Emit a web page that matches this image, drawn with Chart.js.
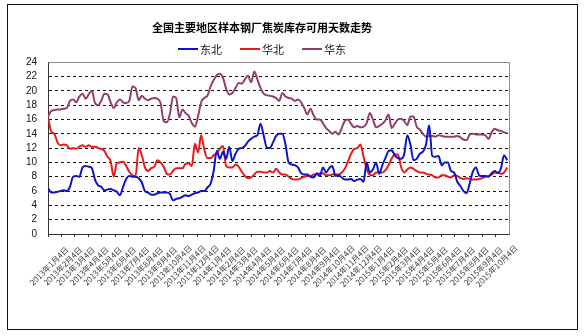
<!DOCTYPE html>
<html>
<head>
<meta charset="utf-8">
<script src="https://cdn.jsdelivr.net/npm/chart.js@4.4.0/dist/chart.umd.min.js"></script>
<style>
  html, body { margin: 0; padding: 0; background: #fff; }
  canvas { display: block; }
</style>
</head>
<body>
<canvas id="cokeChart" width="585" height="336"></canvas>
<script>
// weekly readings starting 2013-01-04, one value per week
const firstWeek = '2013-01-04';

const seriesNames = ['东北', '华北', '华东'];
const seriesColors = ['#0f14c8', '#e8191c', '#933f6c'];

const dongbei = [
    6.4, 5.8, 5.8, 5.9, 6.0, 6.1, 6.0, 6.6, 8.0, 8.1,
    8.0, 9.3, 9.5, 9.4, 9.2, 7.6, 6.8, 6.6, 6.1, 6.2,
    6.3, 6.1, 5.9, 5.4, 6.6, 7.7, 8.1, 8.0, 8.0, 7.8,
    7.2, 6.0, 5.8, 5.5, 5.5, 5.7, 5.8, 5.8, 5.8, 5.6,
    4.7, 4.9, 5.0, 5.2, 5.4, 5.3, 5.5, 5.7, 5.8, 6.0,
    6.0, 6.5, 7.0, 8.8, 11.6, 10.5, 11.5, 10.5, 12.2, 10.2,
    11.2, 11.9, 12.0, 12.3, 12.9, 13.3, 13.6, 13.8, 15.4, 13.8,
    12.1, 12.0, 12.8, 13.7, 14.0, 14.0, 12.5, 10.0, 9.7, 9.6,
    9.3, 8.5, 8.3, 8.3, 8.0, 7.9, 8.5, 8.1, 9.3, 8.6,
    9.2, 9.5, 8.1, 8.2, 7.9, 7.6, 7.6, 7.7, 7.4, 7.6,
    7.7, 7.3, 10.0, 8.6, 9.0, 10.0, 8.4, 9.6, 10.6, 11.6,
    11.7, 11.0, 10.6, 10.5, 11.1, 13.8, 12.5, 10.3, 10.5, 11.2,
    11.5, 12.5, 15.2, 10.9, 10.8, 10.9, 9.6, 10.0, 10.0, 8.8,
    8.6, 7.3, 6.7, 6.0, 5.7, 7.1, 8.7, 9.3, 8.2, 8.1,
    8.1, 8.0, 8.5, 8.8, 8.5, 9.2, 11.0, 10.3
];

const huabei = [
    16.2, 14.3, 14.0, 12.8, 12.4, 12.5, 12.4, 11.9, 12.0, 11.9,
    12.2, 12.4, 12.2, 12.4, 12.2, 12.2, 12.0, 11.9, 11.6, 10.8,
    10.2, 8.0, 9.9, 10.0, 10.1, 9.5, 8.7, 8.2, 8.1, 12.0,
    11.0, 9.3, 8.8, 9.2, 9.4, 10.3, 10.0, 9.4, 8.4, 8.3,
    8.8, 9.2, 9.2, 9.2, 9.8, 9.9, 9.5, 12.6, 11.4, 13.8,
    11.8, 10.6, 10.6, 11.0, 11.3, 11.9, 12.3, 9.5, 9.3, 9.3,
    9.7, 9.4, 8.7, 8.1, 7.8, 7.9, 8.3, 8.7, 8.7, 8.6,
    8.6, 8.8, 8.6, 9.1, 8.6, 8.3, 8.3, 8.0, 7.7, 7.6,
    7.6, 7.8, 8.0, 8.1, 8.1, 8.3, 8.3, 8.5, 8.5, 8.2,
    8.2, 8.3, 8.3, 8.3, 8.6, 9.1, 10.1, 11.2, 11.9, 12.0,
    12.5, 10.8, 9.1, 8.3, 8.2, 8.6, 8.6, 8.6, 8.9, 9.6,
    10.5, 11.1, 11.1, 9.4, 8.6, 9.0, 9.3, 9.1, 8.8, 8.6,
    8.6, 8.4, 8.3, 8.2, 7.9, 7.9, 8.2, 8.2, 8.0, 7.9,
    8.2, 8.1, 7.8, 7.7, 7.8, 7.7, 7.6, 7.6, 7.7, 7.8,
    8.0, 8.1, 8.3, 8.6, 8.6, 8.4, 8.6, 9.3
];

const huadong = [
    16.4, 17.2, 17.3, 17.4, 17.4, 17.5, 17.6, 18.6, 18.8, 18.4,
    19.2, 19.6, 18.9, 19.5, 20.0, 18.3, 18.0, 18.6, 19.6, 19.5,
    18.4, 17.6, 18.4, 18.8, 18.4, 18.3, 18.6, 20.6, 20.4, 18.7,
    19.3, 18.9, 18.7, 18.9, 19.0, 18.9, 18.3, 15.8, 15.6, 16.8,
    19.2, 19.0, 16.3, 17.4, 16.9, 16.5, 15.5, 15.0, 16.4, 18.4,
    19.0, 19.3, 20.6, 21.5, 22.2, 22.4, 21.8, 20.3, 19.5, 19.7,
    20.4, 21.1, 21.0, 21.6, 22.1, 21.2, 22.7, 21.6, 20.4, 19.6,
    19.4, 19.3, 19.2, 19.0, 18.6, 19.7, 19.2, 19.0, 18.9, 18.6,
    18.8, 18.4, 17.6, 16.7, 17.5, 16.6, 16.0, 16.0, 15.5, 14.8,
    14.4, 14.0, 14.3, 13.9, 14.8, 15.8, 16.0, 15.4, 14.9, 15.1,
    14.9, 15.0, 15.5, 16.9, 16.0, 14.9, 15.1, 15.4, 15.9, 16.7,
    14.8, 15.4, 16.0, 16.1, 15.8, 15.2, 16.4, 16.4, 15.0, 14.6,
    14.0, 13.6, 13.7, 13.7, 13.6, 13.8, 13.7, 13.6, 13.6, 13.6,
    13.6, 13.7, 13.5, 13.2, 13.1, 13.9, 14.0, 13.9, 13.9, 13.9,
    13.8, 13.3, 14.2, 14.7, 14.5, 14.4, 14.2, 14.1
];

const monthLabels = [
    '2013年1月4日', '2013年2月4日', '2013年3月4日', '2013年4月4日', '2013年5月4日', '2013年6月4日',
    '2013年7月4日', '2013年8月4日', '2013年9月4日', '2013年10月4日', '2013年11月4日', '2013年12月4日',
    '2014年1月4日', '2014年2月4日', '2014年3月4日', '2014年4月4日', '2014年5月4日', '2014年6月4日',
    '2014年7月4日', '2014年8月4日', '2014年9月4日', '2014年10月4日', '2014年11月4日', '2014年12月4日',
    '2015年1月4日', '2015年2月4日', '2015年3月4日', '2015年4月4日', '2015年5月4日', '2015年6月4日',
    '2015年7月4日', '2015年8月4日', '2015年9月4日', '2015年10月4日'
];

const yTicks = [0, 2, 4, 6, 8, 10, 12, 14, 16, 18, 20, 22, 24];

// x axis runs in days since the first week
const DAY = 86400000;
const t0 = Date.parse(firstWeek + 'T00:00:00Z');
const monthDays = monthLabels.map(s => {
    const m = s.match(/(\d+)年(\d+)月(\d+)日/);
    return (Date.UTC(+m[1], +m[2] - 1, +m[3]) - t0) / DAY;
});
const toPoints = arr => arr.map((v, i) => ({x: i * 7, y: v}));

const cjk = '"Noto Sans CJK SC", "Noto Sans", sans-serif';

// white page, outer frame, plot border, legend row and slanted date labels
const decorations = {
    id: 'decorations',
    beforeDraw(chart) {
        const ctx = chart.ctx;
        ctx.save();
        ctx.fillStyle = '#fff';
        ctx.fillRect(0, 0, chart.width, chart.height);
        ctx.restore();
    },
    afterDraw(chart) {
        const ctx = chart.ctx;
        const area = chart.chartArea;
        const xs = chart.scales.x;
        ctx.save();

        // plot area border (top/right), grey
        ctx.strokeStyle = '#8c8c8c';
        ctx.lineWidth = 1;
        ctx.beginPath();
        ctx.moveTo(Math.round(area.left) + 0.5, Math.round(area.top) + 0.5);
        ctx.lineTo(Math.round(area.right) + 0.5, Math.round(area.top) + 0.5);
        ctx.lineTo(Math.round(area.right) + 0.5, Math.round(area.bottom) + 0.5);
        ctx.stroke();

        // chart object frame
        ctx.strokeStyle = '#111';
        ctx.strokeRect(7.5, 4.5, 570, 325);

        // legend
        ctx.font = '11px ' + cjk;
        ctx.textBaseline = 'middle';
        ctx.textAlign = 'left';
        const lineLen = 20, gap = 18, ly = 49;
        const widths = seriesNames.map(n => lineLen + 2 + ctx.measureText(n).width);
        const total = widths.reduce((a, b) => a + b, 0) + gap * (widths.length - 1);
        const tb = chart.titleBlock;
        let lx = tb.left + tb.width / 2 - total / 2;
        seriesNames.forEach((n, k) => {
            ctx.strokeStyle = seriesColors[k];
            ctx.lineWidth = 2;
            ctx.beginPath();
            ctx.moveTo(lx, ly);
            ctx.lineTo(lx + lineLen, ly);
            ctx.stroke();
            ctx.fillStyle = '#111';
            ctx.fillText(n, lx + lineLen + 2, ly + 0.5);
            lx += widths[k] + gap;
        });

        // month labels, slanted and centred under each tick
        ctx.font = '8px ' + cjk;
        ctx.fillStyle = '#3a3a3a';
        ctx.textAlign = 'center';
        monthLabels.forEach((lab, k) => {
            const x = xs.getPixelForValue(monthDays[k]);
            ctx.save();
            ctx.translate(x + 1, area.bottom + 32);
            ctx.rotate(-Math.PI / 4);
            ctx.fillText(lab, 0, 0);
            ctx.restore();
        });
        ctx.restore();
    }
};

const ctx = document.getElementById('cokeChart').getContext('2d');
const cokeChart = new Chart(ctx, {
    type: 'line',
    plugins: [decorations],
    data: {
        datasets: [dongbei, huabei, huadong].map((arr, k) => ({
            label: seriesNames[k],
            data: toPoints(arr),
            borderColor: seriesColors[k],
            backgroundColor: seriesColors[k],
            borderWidth: 2,
            pointRadius: 0,
            cubicInterpolationMode: 'monotone',
            fill: false
        }))
    },
    options: {
        responsive: false,
        animation: false,
        devicePixelRatio: 1,
        layout: {
            padding: {top: 8, left: 15, right: 76, bottom: 99}
        },
        plugins: {
            legend: {display: false},
            tooltip: {enabled: false},
            title: {
                display: true,
                text: '全国主要地区样本钢厂焦炭库存可用天数走势',
                color: '#000',
                font: {family: cjk, size: 11, weight: 'bold'},
                padding: {top: 13, bottom: 28}
            }
        },
        scales: {
            x: {
                type: 'linear',
                min: 0,
                max: 1033,
                afterBuildTicks: scale => {
                    scale.ticks = monthDays.map(v => ({value: v}));
                },
                ticks: {display: false},
                grid: {
                    drawOnChartArea: false,
                    drawTicks: true,
                    tickLength: 3,
                    color: '#333'
                },
                border: {color: '#333', width: 1}
            },
            y: {
                min: 0,
                max: 24,
                afterBuildTicks: scale => {
                    scale.ticks = yTicks.map(v => ({value: v}));
                },
                ticks: {
                    autoSkip: false,
                    padding: 11,
                    color: '#111',
                    font: {family: '"Liberation Sans", Arial, sans-serif', size: 10}
                },
                grid: {
                    drawTicks: false,
                    color: c => (c.tick && (c.tick.value === 0 || c.tick.value === 24)) ? 'rgba(0,0,0,0)' : '#111',
                    lineWidth: 1
                },
                border: {color: '#333', width: 1, dash: [3, 3]}
            }
        }
    }
});
</script>
</body>
</html>
